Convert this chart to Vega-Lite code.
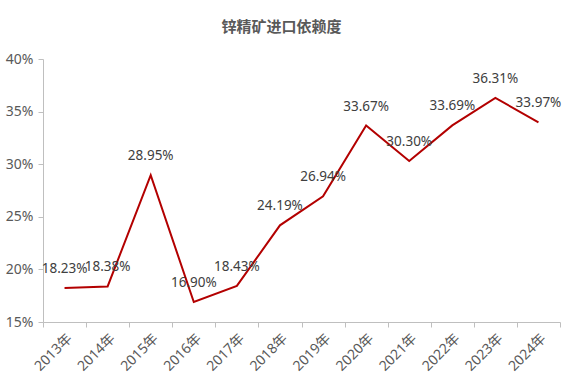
{
  "$schema": "https://vega.github.io/schema/vega-lite/v6.json",
  "width": 517,
  "height": 263,
  "autosize": {"type": "none"},
  "padding": {"left": 43, "top": 59, "right": 5, "bottom": 66},
  "background": "white",
  "title": {
    "text": "锌精矿进口依赖度",
    "font": "Noto Sans CJK SC",
    "fontSize": 15,
    "fontWeight": "bold",
    "color": "#595959",
    "anchor": "middle",
    "offset": 17,
    "dx": -20
  },
  "data": {
    "values": [
      {"year": "2013年", "v": 18.23},
      {"year": "2014年", "v": 18.38},
      {"year": "2015年", "v": 28.95},
      {"year": "2016年", "v": 16.90},
      {"year": "2017年", "v": 18.43},
      {"year": "2018年", "v": 24.19},
      {"year": "2019年", "v": 26.94},
      {"year": "2020年", "v": 33.67},
      {"year": "2021年", "v": 30.30},
      {"year": "2022年", "v": 33.69},
      {"year": "2023年", "v": 36.31},
      {"year": "2024年", "v": 33.97}
    ]
  },
  "config": {
    "view": {"stroke": null},
    "axis": {
      "labelFont": "Noto Sans, Noto Sans CJK SC",
      "labelFontSize": 14,
      "labelColor": "#595959",
      "domainColor": "#bfbfbf",
      "tickColor": "#bfbfbf",
      "grid": false,
      "title": null
    }
  },
  "encoding": {
    "x": {
      "field": "year",
      "type": "ordinal",
      "sort": null,
      "scale": {"paddingInner": 0, "paddingOuter": 0},
      "axis": {"labelAngle": -45, "tickBand": "extent", "tickSize": 5, "labelPadding": 4}
    },
    "y": {
      "field": "v",
      "type": "quantitative",
      "scale": {"domain": [15, 40], "nice": false, "zero": false},
      "axis": {"values": [15, 20, 25, 30, 35, 40], "labelExpr": "datum.value + '%'", "tickSize": 5, "labelPadding": 5}
    }
  },
  "layer": [
    {
      "mark": {"type": "line", "color": "#b30000", "strokeWidth": 2}
    },
    {
      "transform": [{"calculate": "format(datum.v, '.2f') + '%'", "as": "lbl"}],
      "mark": {"type": "text", "dy": -19, "font": "Noto Sans", "fontSize": 13.5, "color": "#404040"},
      "encoding": {
        "text": {"field": "lbl", "type": "nominal"}
      }
    }
  ]
}
